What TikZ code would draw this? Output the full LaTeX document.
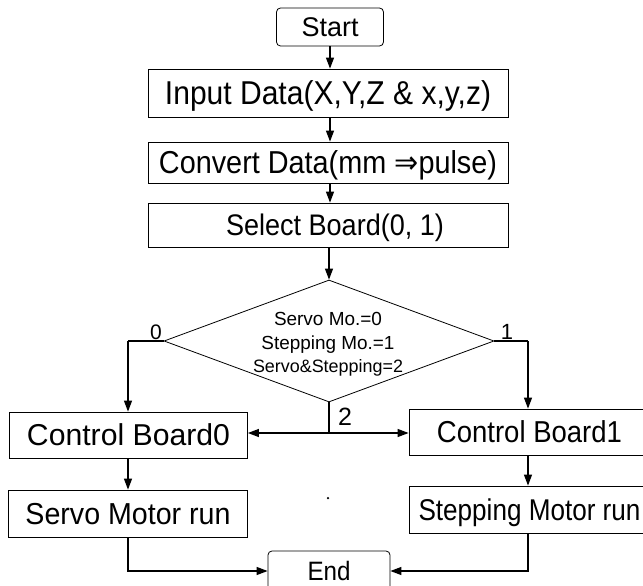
\documentclass[tikz,border=0pt]{standalone}
\usepackage{graphicx}
\usepackage{fontspec}
\setmainfont{Liberation Sans}
\newfontfamily\djv{DejaVu Sans}
\usetikzlibrary{shapes.geometric,arrows.meta}
\newcommand{\ft}[3]{\scalebox{1}[#2]{\resizebox{#1}{!}{#3}}}
\begin{document}
\begin{tikzpicture}[x=1pt,y=-1pt,
  box/.style={draw, line width=0.8pt, inner sep=0pt, text depth=0pt},
  term/.style={box, rounded corners=4pt},
  conn/.style={line width=1.2pt, -{Triangle[length=11pt,width=8pt]}},
  plain/.style={line width=1.2pt},
  lab/.style={anchor=base, inner sep=0pt}
]
\useasboundingbox (0,0) rectangle (643,586);
\clip (0,0) rectangle (643,586);

\node[term, minimum width=107pt, minimum height=38pt] (start) at (330,27) {\ft{57pt}{1.0}{Start}};
\node[box, minimum width=360pt, minimum height=48pt] (input) at (328,93) {\ft{326pt}{1.1}{Input Data(X,Y,Z \& x,y,z)}};
\node[box, minimum width=360pt, minimum height=41pt] (conv) at (328,162.5) {\ft{338pt}{1.1}{Convert Data(mm {\djv ⇒}pulse)}};
\node[box, minimum width=360pt, minimum height=44pt] (sel) at (328,225) {\hspace*{14pt}\ft{218pt}{1.1}{Select Board(0, 1)}};

\node[diamond, draw, line width=0.8pt, minimum width=330pt, minimum height=122pt, inner sep=0pt] (dec) at (329,341) {};
\node[align=center, inner sep=0pt, font=\fontsize{18}{23.5}\selectfont] (dectext) at (328,344.5)
  {\ft{108pt}{1.0}{Servo Mo.=0}\\\ft{133pt}{1.0}{Stepping Mo.=1}\\\ft{150pt}{1.0}{Servo\&Stepping=2}};

\node[box, minimum width=238pt, minimum height=46pt] (cb0) at (128.5,435) {\ft{203pt}{1.0}{Control Board0}};
\node[box, minimum width=239pt, minimum height=47pt] (servo) at (128,513.5) {\ft{205pt}{1.06}{Servo Motor run}};
\node[box, minimum width=241pt, minimum height=46pt] (cb1) at (529.5,432) {\ft{185pt}{1.1}{Control Board1}};
\node[box, minimum width=241pt, minimum height=47pt] (step) at (529.5,509.5) {\ft{222pt}{1.15}{Stepping Motor run}};
\node[term, minimum width=122pt, minimum height=40pt] (end) at (329,571) {\ft{43pt}{1.1}{End}};

\node[lab, font=\fontsize{21}{21}\selectfont] (l0) at (156,339) {0};
\node[lab, font=\fontsize{22}{22}\selectfont] (l1) at (507,339) {1};
\node[lab, font=\fontsize{25}{25}\selectfont] (l2) at (345,425) {2};

\node[circle, fill, inner sep=0pt, minimum size=2.5pt] (speck) at (328,498) {};

\coordinate (lt) at (128,341);
\coordinate (rt) at (528,341);
\coordinate (j) at (329,433);

\draw[conn] (start) -- (start |- input.north);
\draw[conn] (input.south -| start) -- (conv.north -| start);
\draw[conn] (conv.south -| start) -- (sel.north -| start);
\draw[conn] (dec.north |- sel.south) -- (dec.north);
\draw[plain] (dec.west) -- (lt);
\draw[conn] (lt) -- (cb0.north -| lt);
\draw[plain] (dec.east) -- (rt);
\draw[conn] (rt) -- (cb1.north -| rt);
\draw[plain] (dec.south) -- (j);
\draw[conn] (j) -- (j -| cb0.east);
\draw[conn] (j) -- (j -| cb1.west);
\draw[conn] (cb0.south -| lt) -- (servo.north -| lt);
\draw[conn] (cb1.south -| rt) -- (step.north -| rt);
\draw[conn] (servo.south -| lt) |- (end.west);
\draw[conn] (step.south -| rt) |- (end.east);
\end{tikzpicture}
\end{document}
